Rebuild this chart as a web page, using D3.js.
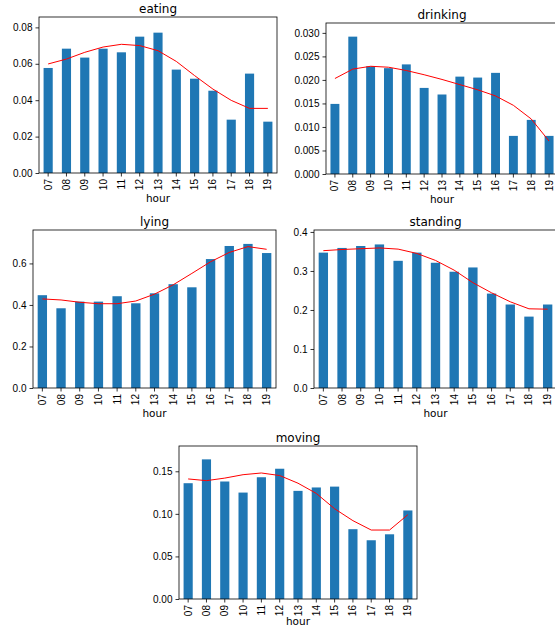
<!DOCTYPE html>
<html><head><meta charset="utf-8">
<script src="https://cdn.jsdelivr.net/npm/d3@7"></script>
<style>body{margin:0;background:#fff}svg{font-family:"DejaVu Sans",sans-serif}</style>
</head><body><svg id="c" width="555" height="630"></svg>
<script>
const hours = ["07","08","09","10","11","12","13","14","15","16","17","18","19"];
const eating = [0.0577,0.0683,0.0634,0.0683,0.0663,0.0749,0.0771,0.0568,0.0518,0.0452,0.0293,0.0546,0.0282];
const eatingSmooth = [0.0599,0.0626,0.0663,0.0692,0.0707,0.0700,0.0672,0.0613,0.0535,0.0461,0.0399,0.0355,0.0355];
const drinking = [0.0149,0.0292,0.0229,0.0225,0.0233,0.0183,0.0169,0.0207,0.0205,0.0215,0.0081,0.0115,0.0081];
const drinkingSmooth = [0.0203,0.0223,0.0229,0.0227,0.0220,0.0211,0.0201,0.0190,0.0179,0.0166,0.0146,0.0117,0.0070];
const lying = [0.447,0.384,0.416,0.416,0.442,0.408,0.456,0.500,0.485,0.621,0.684,0.694,0.650];
const lyingSmooth = [0.429,0.424,0.413,0.406,0.406,0.419,0.452,0.497,0.552,0.608,0.653,0.681,0.668];
const standing = [0.347,0.359,0.364,0.368,0.326,0.347,0.321,0.298,0.309,0.242,0.214,0.183,0.214];
const standingSmooth = [0.352,0.355,0.357,0.359,0.356,0.345,0.327,0.302,0.270,0.244,0.221,0.203,0.202];
const moving = [0.136,0.164,0.138,0.125,0.143,0.153,0.127,0.131,0.132,0.082,0.069,0.076,0.104];
const movingSmooth = [0.141,0.139,0.142,0.146,0.148,0.145,0.136,0.124,0.106,0.092,0.081,0.081,0.099];

const panels = [
  {title:"eating", bars:eating, line:eatingSmooth, x0:39, x1:277, y0:17, y1:173, ymax:0.0857, step:0.02, fmt:".2f"},
  {title:"drinking", bars:drinking, line:drinkingSmooth, x0:326, x1:558, y0:23, y1:174, ymax:0.0321, step:0.005, fmt:".3f"},
  {title:"lying", bars:lying, line:lyingSmooth, x0:33, x1:276, y0:230, y1:388, ymax:0.761, step:0.2, fmt:".1f"},
  {title:"standing", bars:standing, line:standingSmooth, x0:314, x1:557, y0:230, y1:388, ymax:0.405, step:0.1, fmt:".1f"},
  {title:"moving", bars:moving, line:movingSmooth, x0:179, x1:417, y0:446, y1:599, ymax:0.1797, step:0.05, fmt:".2f"}
];

const svg = d3.select("#c");
panels.forEach(p => {
  const x = d3.scaleBand().domain(hours).range([p.x0, p.x1]).paddingInner(0.5).paddingOuter(0.25);
  const y = d3.scaleLinear().domain([0, p.ymax]).range([p.y1, p.y0]);
  const g = svg.append("g");
  g.selectAll("rect").data(p.bars).join("rect")
    .attr("x", (d,i) => x(hours[i])).attr("width", x.bandwidth())
    .attr("y", d => y(d)).attr("height", d => y(0) - y(d))
    .attr("fill", "#1f77b4");
  g.append("path").datum(p.line)
    .attr("d", d3.line().x((d,i) => x(hours[i]) + x.bandwidth()/2).y(d => y(d)))
    .attr("fill", "none").attr("stroke", "red").attr("stroke-width", 1);
  const ticks = d3.range(0, p.ymax + 1e-9, p.step);
  const ya = g.append("g").attr("transform", `translate(${p.x0},0)`)
    .call(d3.axisLeft(y).tickValues(ticks).tickFormat(d3.format(p.fmt)).tickSize(3.5).tickPadding(3));
  const xa = g.append("g").attr("transform", `translate(0,${p.y1})`)
    .call(d3.axisBottom(x).tickSize(3.5).tickPadding(3));
  xa.selectAll("text").attr("transform", "rotate(-90)").attr("text-anchor", "end")
    .attr("x", -6).attr("y", 0).attr("dy", "0.35em");
  [ya, xa].forEach(a => {
    a.select(".domain").remove();
    a.selectAll("text").attr("font-size", 10).attr("fill", "#000");
    a.selectAll("line").attr("stroke", "#000").attr("stroke-width", 0.8);
  });
  g.append("rect").attr("x", p.x0).attr("y", p.y0).attr("width", p.x1 - p.x0).attr("height", p.y1 - p.y0)
    .attr("fill", "none").attr("stroke", "#000").attr("stroke-width", 0.8);
  g.append("text").attr("x", (p.x0 + p.x1)/2).attr("y", p.y0 - 4).attr("text-anchor", "middle")
    .attr("font-size", 12).text(p.title);
  g.append("text").attr("x", (p.x0 + p.x1)/2).attr("y", Math.min(p.y1 + 29, 625)).attr("text-anchor", "middle")
    .attr("font-size", 10.5).text("hour");
});
</script></body></html>
